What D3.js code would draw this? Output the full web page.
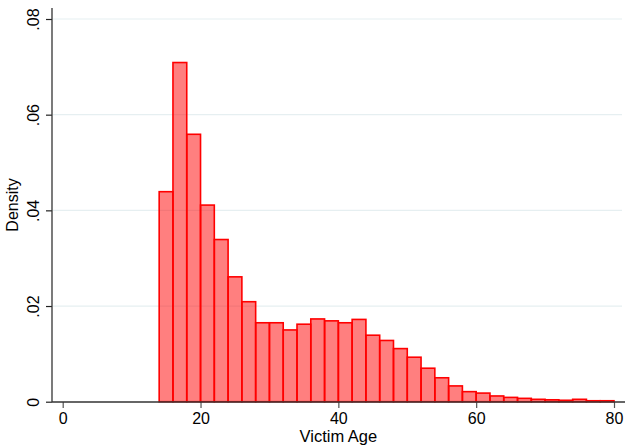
<!DOCTYPE html>
<html>
<head>
<meta charset="utf-8">
<script src="https://cdn.jsdelivr.net/npm/d3@7"></script>
<style>
  html, body { margin: 0; padding: 0; background: #fff; }
  svg { display: block; font-family: "Liberation Sans", Arial, Helvetica, sans-serif; }
</style>
</head>
<body>
<svg id="chart" width="626" height="445"></svg>
<script>
// Histogram of victim age: bins of width 2 starting at 14, density per bin
const binStarts = [14, 16, 18, 20, 22, 24, 26, 28, 30, 32, 34, 36, 38, 40, 42, 44, 46,
                   48, 50, 52, 54, 56, 58, 60, 62, 64, 66, 68, 70, 72, 74, 76, 78];
const densities = [0.0439, 0.0709, 0.0559, 0.0411, 0.0339, 0.0261, 0.0209, 0.0165, 0.0165,
                   0.0150, 0.0162, 0.0173, 0.0169, 0.0165, 0.0172, 0.0139, 0.0128, 0.0111,
                   0.0093, 0.0070, 0.0050, 0.0033, 0.0021, 0.0018, 0.0012, 0.0009, 0.0007,
                   0.0005, 0.0004, 0.0003, 0.0005, 0.0002, 0.0002];
const binWidth = 2;
const xTicks = [0, 20, 40, 60, 80];
const yTicks = [0, 0.02, 0.04, 0.06, 0.08];
const xTitle = "Victim Age";
const yTitle = "Density";

const bins = binStarts.map((s, i) => ({ x0: s, x1: s + binWidth, d: densities[i] }));

const svg = d3.select("#chart");
const region = { left: 52, right: 625, top: 8, bottom: 402 };

const x = d3.scaleLinear().domain([0, 80]).range([62.7, 614]);
const y = d3.scaleLinear().domain([0, 0.08]).range([401.7, 19]);

svg.append("rect").attr("width", 626).attr("height", 445).attr("fill", "#fff");

// horizontal grid lines
svg.append("g").selectAll("line")
  .data(yTicks.filter(t => t > 0))
  .join("line")
  .attr("x1", region.left + 1).attr("x2", region.right - 3)
  .attr("y1", d => y(d)).attr("y2", d => y(d))
  .attr("stroke", "#e6eff1").attr("stroke-width", 1.2);

// bars
svg.append("g").selectAll("rect")
  .data(bins)
  .join("rect")
  .attr("x", d => x(d.x0))
  .attr("width", d => x(d.x1) - x(d.x0))
  .attr("y", d => y(d.d))
  .attr("height", d => y(0) - y(d.d))
  .attr("fill", "#ff0000").attr("fill-opacity", 0.5)
  .attr("stroke", "#ff0000").attr("stroke-width", 1.6);

const fmtY = d => d === 0 ? "0" : d3.format(".2f")(d).replace(/^0/, "");

// y axis
const yAxis = d3.axisLeft(y).tickValues(yTicks).tickFormat(fmtY).tickSize(6).tickSizeOuter(0);
const gy = svg.append("g").attr("transform", `translate(${region.left},0)`).call(yAxis);
gy.select(".domain").remove();
gy.selectAll(".tick line").attr("stroke", "#222").attr("stroke-width", 1.2);
gy.selectAll(".tick text")
  .attr("x", null).attr("dy", null)
  .attr("transform", "translate(-13,0) rotate(-90)")
  .attr("text-anchor", "middle")
  .attr("font-size", 16).attr("fill", "#000")
  .attr("font-family", "Liberation Sans, Arial, sans-serif");

// x axis
const xAxis = d3.axisBottom(x).tickValues(xTicks).tickFormat(d3.format("d")).tickSize(6).tickSizeOuter(0);
const gx = svg.append("g").attr("transform", `translate(0,${region.bottom})`).call(xAxis);
gx.select(".domain").remove();
gx.selectAll(".tick line").attr("stroke", "#555").attr("stroke-width", 1.2);
gx.selectAll(".tick text")
  .attr("y", 21.5).attr("dy", null)
  .attr("font-size", 16).attr("fill", "#000")
  .attr("font-family", "Liberation Sans, Arial, sans-serif");

// axis lines spanning the plot region
svg.append("line")
  .attr("x1", region.left).attr("x2", region.left)
  .attr("y1", region.top).attr("y2", region.bottom)
  .attr("stroke", "#333").attr("stroke-width", 1.3);
svg.append("line")
  .attr("x1", region.left).attr("x2", region.right)
  .attr("y1", region.bottom).attr("y2", region.bottom)
  .attr("stroke", "#333").attr("stroke-width", 1.3);

// axis titles
svg.append("text")
  .attr("transform", `translate(17.5,${(region.top + region.bottom) / 2}) rotate(-90)`)
  .attr("text-anchor", "middle")
  .attr("font-size", 16).attr("fill", "#000")
  .text(yTitle);
svg.append("text")
  .attr("x", (x(0) + x(80)) / 2).attr("y", 441.5)
  .attr("text-anchor", "middle")
  .attr("font-size", 16.5).attr("fill", "#000")
  .text(xTitle);
</script>
</body>
</html>
